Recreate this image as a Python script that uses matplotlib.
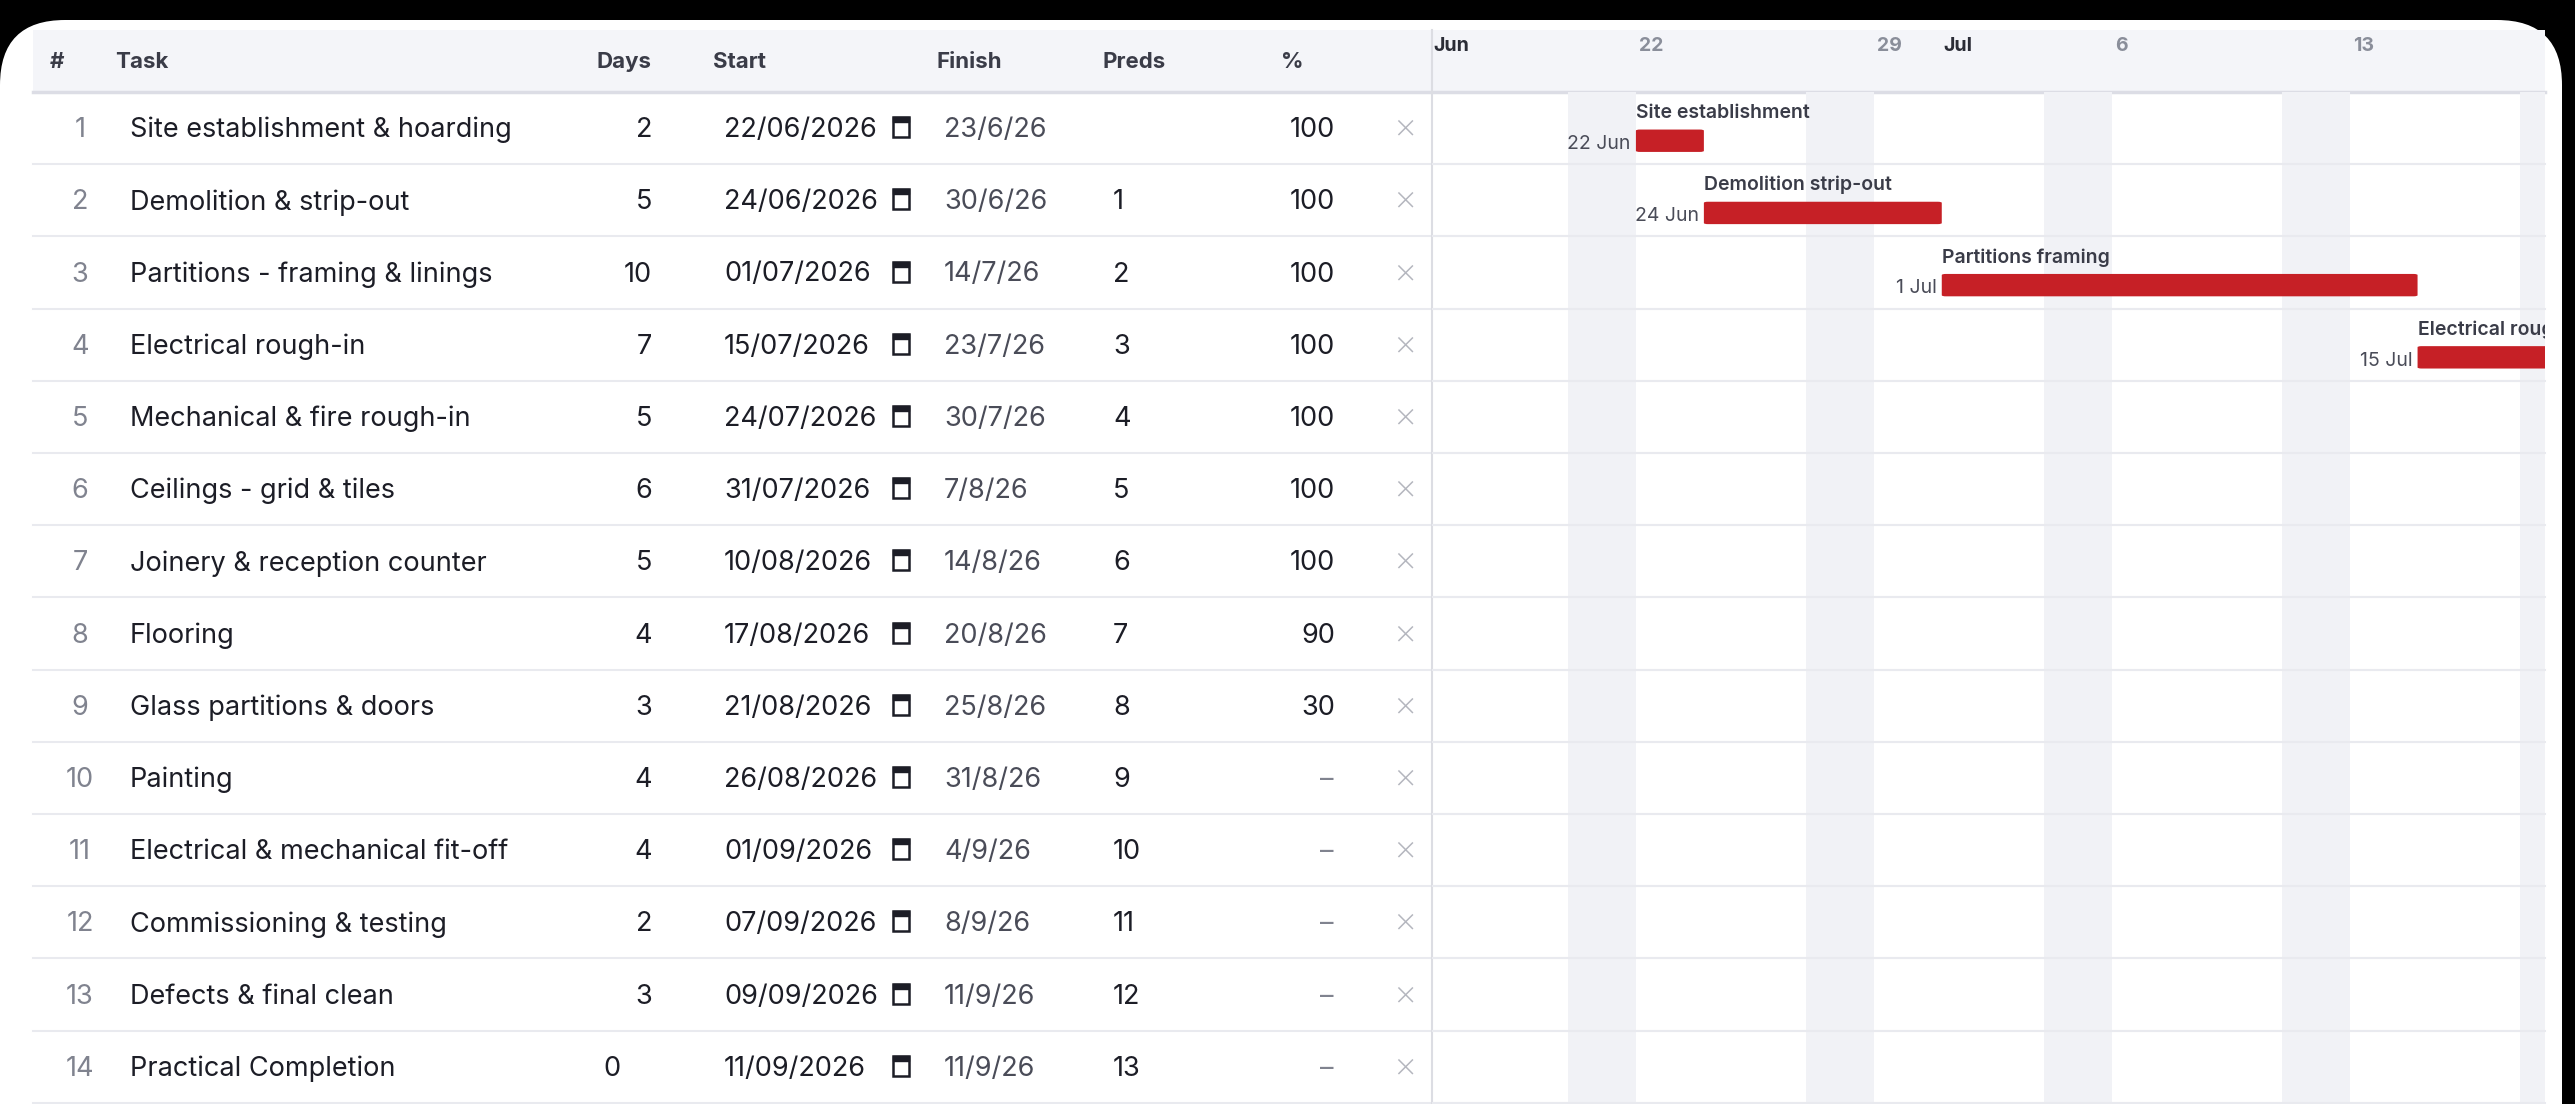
import numpy as np
import matplotlib

matplotlib.use("Agg")
import matplotlib.pyplot as plt
from matplotlib.patches import FancyBboxPatch, Rectangle
from matplotlib.transforms import blended_transform_factory

# ---- data ----
task_names = [
    "Site establishment & hoarding", "Demolition & strip-out", "Partitions - framing & linings",
    "Electrical rough-in", "Mechanical & fire rough-in", "Ceilings - grid & tiles",
    "Joinery & reception counter", "Flooring", "Glass partitions & doors", "Painting",
    "Electrical & mechanical fit-off", "Commissioning & testing", "Defects & final clean",
    "Practical Completion",
]
bar_labels = [
    "Site establishment", "Demolition strip-out", "Partitions framing", "Electrical rough-in",
    "Mechanical fire rough-in", "Ceilings grid", "Joinery", "Flooring", "Glass partitions",
    "Painting", "Fit-off", "Commissioning", "Defects", "Practical Completion",
]
days = [2, 5, 10, 7, 5, 6, 5, 4, 3, 4, 4, 2, 3, 0]
starts = [
    "2026-06-22", "2026-06-24", "2026-07-01", "2026-07-15", "2026-07-24", "2026-07-31",
    "2026-08-10", "2026-08-17", "2026-08-21", "2026-08-26", "2026-09-01", "2026-09-07",
    "2026-09-09", "2026-09-11",
]
finishes = [
    "2026-06-23", "2026-06-30", "2026-07-14", "2026-07-23", "2026-07-30", "2026-08-07",
    "2026-08-14", "2026-08-20", "2026-08-25", "2026-08-31", "2026-09-04", "2026-09-08",
    "2026-09-11", "2026-09-11",
]
preds = ["", "1", "2", "3", "4", "5", "6", "7", "8", "9", "10", "11", "12", "13"]
percent = ["100", "100", "100", "100", "100", "100", "100", "90", "30", "–", "–", "–", "–", "–"]
view_start = np.datetime64("2026-06-16")
view_days = 32.75

start_d = np.array(starts, dtype="datetime64[D]")
finish_d = np.array(finishes, dtype="datetime64[D]")

# ---- layout (pixels) ----
W, H = 2575, 1104
HDR_TOP, HDR_BOT = 30, 92
ROW_H = 72.2
GX0, GX1 = 1432, 2545
TL = 33

DARK = "#1c1d26"
GREY = "#80838f"
LINE = "#e9eaef"
FONT = "Inter"

fig = plt.figure(figsize=(W / 100, H / 100), dpi=100, facecolor="black")
ax = fig.add_axes([0, 0, 1, 1])
ax.set_xlim(0, W)
ax.set_ylim(H, 0)
ax.axis("off")

ax.add_patch(FancyBboxPatch((0, 20), 2562, 1300, boxstyle="round,pad=0,rounding_size=65",
                            fc="white", ec="none"))
ax.add_patch(Rectangle((TL, HDR_TOP), GX1 - TL, HDR_BOT - HDR_TOP, fc="#f4f5f9", ec="none"))
ax.plot([TL, GX1], [HDR_BOT, HDR_BOT], color="#dcdde5", lw=2.5)

hdr_y = (HDR_TOP + HDR_BOT) / 2 + 1
hdr_kw = dict(fontsize=16, fontweight="bold", color="#3a3c48", va="center", family=FONT)
ax.text(50, hdr_y, "#", **hdr_kw)
ax.text(115, hdr_y, "Task", **hdr_kw)
ax.text(596, hdr_y, "Days", **hdr_kw)
ax.text(713, hdr_y, "Start", **hdr_kw)
ax.text(936, hdr_y, "Finish", **hdr_kw)
ax.text(1103, hdr_y, "Preds", **hdr_kw)
ax.text(1281, hdr_y, "%", **hdr_kw)

row_kw = dict(fontsize=19.5, va="center", family=FONT)
for i in range(len(task_names)):
    y = HDR_BOT + ROW_H * i + ROW_H / 2 + 2
    ax.plot([TL, GX1], [HDR_BOT + ROW_H * (i + 1)] * 2, color=LINE, lw=1.5)
    ax.text(80, y, str(i + 1), ha="center", color=GREY, **row_kw)
    ax.text(130, y, task_names[i], color=DARK, **row_kw)
    ax.text(652 if days[i] else 612, y, str(days[i]), ha="right" if days[i] else "center",
            color=DARK, **row_kw)
    sd = start_d[i].astype(object)
    fd = finish_d[i].astype(object)
    ax.text(724, y, sd.strftime("%d/%m/%Y"), color=DARK, **row_kw)
    # calendar icon
    ax.add_patch(Rectangle((893, y - 13), 16, 20, fc="none", ec=DARK, lw=1.8))
    ax.add_patch(Rectangle((893, y - 13), 16, 5, fc=DARK, ec=DARK, lw=1.0))
    ax.text(944, y, f"{fd.day}/{fd.month}/{fd.year % 100}", color="#4a4c58", **row_kw)
    ax.text(1113, y, preds[i], color=DARK, **row_kw)
    if percent[i] == "–":
        ax.text(1327, y, percent[i], ha="center", color=GREY, **row_kw)
    else:
        ax.text(1335, y, percent[i], ha="right", color=DARK, **row_kw)
    ax.text(1405, y - 2, "×", ha="center", color="#b4b6be", fontsize=26, fontweight="light",
            va="center", family=FONT)

# ---- gantt ----
n_rows = (H - HDR_BOT) / ROW_H
gax = fig.add_axes([GX0 / W, 0, (GX1 - GX0) / W, (H - HDR_BOT) / H])
gax.set_xlim(0, view_days)
gax.set_ylim(n_rows, 0)
gax.axis("off")

all_days = view_start + np.arange(int(np.ceil(view_days)) + 1)
for d in all_days:
    if not np.is_busday(d):
        x = (d - view_start).astype(int)
        gax.axvspan(x, x + 1, color="#f1f2f6", lw=0, zorder=0)
for i in range(len(task_names)):
    gax.axhline(i + 1, color=LINE, lw=1.5, zorder=1)

for i in range(len(task_names)):
    x0 = (start_d[i] - view_start).astype(int)
    width = (finish_d[i] - start_d[i]).astype(int) + 1
    if x0 >= view_days:
        continue
    gax.add_patch(FancyBboxPatch((x0, i + 0.52), width, 0.31, boxstyle="round,pad=0,rounding_size=0.12",
                                 mutation_aspect=1 / 8, fc="#c62026", ec="none", zorder=3, clip_on=True))
    gax.text(x0, i + 0.29, bar_labels[i], fontsize=14, fontweight="semibold", color="#3a3c48",
             va="center", family=FONT, zorder=4, clip_on=True)
    sd = start_d[i].astype(object)
    gax.text(x0 - 0.15, i + 0.72, f"{sd.day} {sd.strftime('%b')}", fontsize=14, color="#4a4c58",
             ha="right", va="center", family=FONT, zorder=4)

ax.plot([GX0, GX0], [HDR_TOP, H], color="#dcdde3", lw=1.5, zorder=5)

# header ticks
tr = blended_transform_factory(gax.transData, ax.transData)
for d in all_days:
    x = (d - view_start).astype(int)
    dd = d.astype(object)
    if x == 0 or dd.day == 1:
        ax.text(x + 0.05, 46, dd.strftime("%b"), transform=tr, fontsize=14, fontweight="bold",
                color="#2a2c36", va="center", family=FONT)
    elif not np.is_busday(d - 1) and np.is_busday(d) and dd.weekday() == 0:
        ax.text(x + 0.1, 46, str(dd.day), transform=tr, fontsize=14, fontweight="bold",
                color="#8a8e9a", va="center", family=FONT)

fig.savefig("out.png", dpi=100, facecolor="black")
